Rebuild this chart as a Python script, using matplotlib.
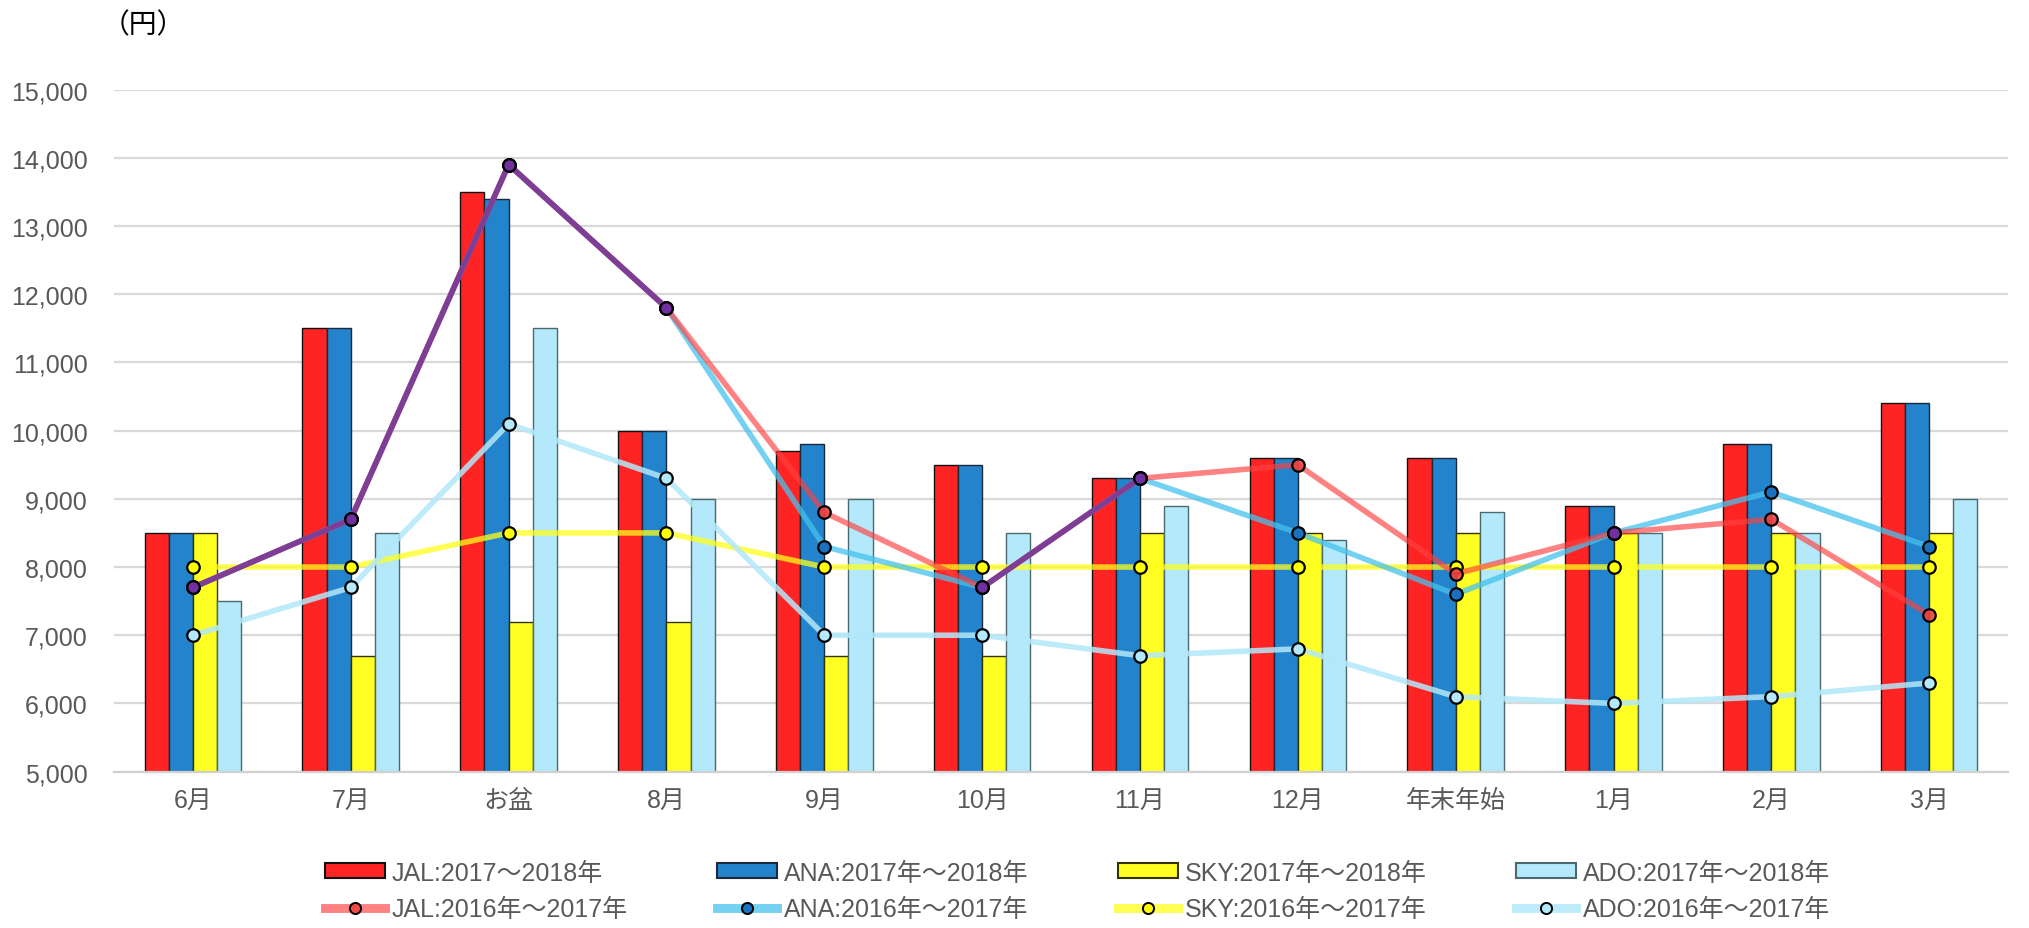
import numpy as np
import matplotlib
matplotlib.use("Agg")
import matplotlib.pyplot as plt
from matplotlib.lines import Line2D
from matplotlib.patches import Patch

plt.rcParams['font.family'] = ['Liberation Sans', 'Noto Sans CJK JP', 'DejaVu Sans']

categories = ["6月", "7月", "お盆", "8月", "9月", "10月", "11月", "12月", "年末年始", "1月", "2月", "3月"]

jal_2017 = [8500, 11500, 13500, 10000, 9700, 9500, 9300, 9600, 9600, 8900, 9800, 10400]
ana_2017 = [8500, 11500, 13400, 10000, 9800, 9500, 9300, 9600, 9600, 8900, 9800, 10400]
sky_2017 = [8500, 6700, 7200, 7200, 6700, 6700, 8500, 8500, 8500, 8500, 8500, 8500]
ado_2017 = [7500, 8500, 11500, 9000, 9000, 8500, 8900, 8400, 8800, 8500, 8500, 9000]

jal_2016 = [7700, 8700, 13900, 11800, 8800, 7700, 9300, 9500, 7900, 8500, 8700, 7300]
ana_2016 = [7700, 8700, 13900, 11800, 8300, 7700, 9300, 8500, 7600, 8500, 9100, 8300]
sky_2016 = [8000, 8000, 8500, 8500, 8000, 8000, 8000, 8000, 8000, 8000, 8000, 8000]
ado_2016 = [7000, 7700, 10100, 9300, 7000, 7000, 6700, 6800, 6100, 6000, 6100, 6300]

bar_labels = ["JAL:2017～2018年", "ANA:2017年～2018年", "SKY:2017年～2018年", "ADO:2017年～2018年"]
line_labels = ["JAL:2016年～2017年", "ANA:2016年～2017年", "SKY:2016年～2017年", "ADO:2016年～2017年"]

fig = plt.figure(figsize=(20.29, 9.29), dpi=100)
ax = fig.add_axes([0.0562, 0.1683, 0.9335, 0.7342])

x = np.arange(len(categories))
w = 0.153
bar_series = [jal_2017, ana_2017, sky_2017, ado_2017]
bar_colors = ["#FF2424", "#2383CC", "#FFFF24", "#B3E9FB"]
bar_edges = ["#111111", "#1a2a3a", "#333300", "#4a6a70"]
offsets = [-1.5, -0.5, 0.5, 1.5]
bar_handles = []
for s, c, ec, o, lab in zip(bar_series, bar_colors, bar_edges, offsets, bar_labels):
    ax.bar(x + o * w, s, width=w, color=c, edgecolor=ec, linewidth=1.0, zorder=2, bottom=0)
    bar_handles.append(Patch(facecolor=c, edgecolor=ec, linewidth=1.5, label=lab))

lw = 4.0
ms = 9
line_specs = [
    (jal_2016, (1.0, 0.25, 0.25, 0.65), (0.92, 0.25, 0.25, 0.85)),
    (ana_2016, (0.27, 0.76, 0.93, 0.75), "#1A72BE"),
    (sky_2016, (1.0, 1.0, 0.1, 0.75), "#FFFF00"),
    (ado_2016, (0.70, 0.91, 0.98, 0.85), "#B3E9FB"),
]
line_handles = []
zo = [5, 4, 3, 3]
for (s, lc, mfc), lab, z in zip(line_specs, line_labels, zo):
    ax.plot(x, s, color=lc, linewidth=lw, marker='o', markersize=ms,
            markerfacecolor=mfc, markeredgecolor='black', markeredgewidth=1.6, zorder=z)
    line_handles.append(Line2D([0], [0], color=lc, linewidth=lw * 1.6, marker='o', markersize=8,
                               markerfacecolor=mfc, markeredgecolor='black', markeredgewidth=1.4,
                               label=lab))

# overlap of JAL and ANA 2016 shown in purple
jal_arr = np.array(jal_2016, dtype=float)
ana_arr = np.array(ana_2016, dtype=float)
eq = jal_arr == ana_arr
purple = np.where(eq, jal_arr, np.nan)
ax.plot(x, purple, color="#7E3E96", linewidth=lw, zorder=6, solid_capstyle='butt')
ax.plot(x[eq], jal_arr[eq], linestyle='none', marker='o', markersize=ms,
        markerfacecolor="#7030A0", markeredgecolor='black', markeredgewidth=1.6, zorder=7)

ax.set_xlim(-0.5, len(categories) - 0.5)
ax.set_ylim(5000, 15000)
ax.set_yticks(np.arange(5000, 15001, 1000))
ax.set_yticklabels([f"{v:,}" for v in range(5000, 15001, 1000)])
ax.set_xticks(x)
ax.set_xticklabels(categories)
ax.tick_params(axis='both', length=0, labelsize=18, labelcolor="#595959")
ax.tick_params(axis='y', pad=19)
ax.tick_params(axis='x', pad=12)
ax.grid(axis='y', color="#D9D9D9", linewidth=1.6, zorder=0)
ax.set_axisbelow(True)
for sp in ['top', 'right', 'left']:
    ax.spines[sp].set_visible(False)
ax.spines['bottom'].set_color("#D0D0D0")
ax.spines['bottom'].set_linewidth(1.6)

fig.text(0.050, 0.972, "（円）", fontsize=20, color="black", va='center', ha='left')

handles = []
for b, l in zip(bar_handles, line_handles):
    handles += [b, l]
leg = fig.legend(handles=handles, ncol=4, loc='lower center', bbox_to_anchor=(0.531, -0.017),
                 frameon=False, fontsize=18, labelcolor="#595959", columnspacing=3.6,
                 handlelength=2.4, handleheight=0.55, handletextpad=0.25, labelspacing=0.5)

fig.savefig("out.png", dpi=100)
